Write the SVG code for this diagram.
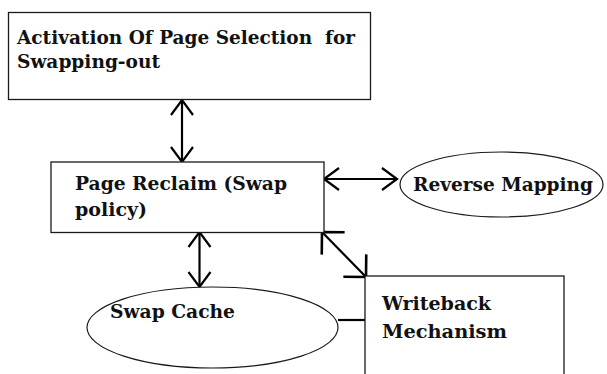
<svg xmlns="http://www.w3.org/2000/svg" width="607" height="374" viewBox="0 0 607 374">
  <style>
    .box { fill: #ffffff; stroke: #1a1a1a; stroke-width: 1.3; }
    .oval { fill: #ffffff; stroke: #1a1a1a; stroke-width: 1.2; }
    .lbl { font-family: "DejaVu Serif", "Liberation Serif", serif; font-weight: bold; font-size: 18px; fill: #111111; white-space: pre; }
    .link { fill: none; stroke: #000000; stroke-width: 2.2; }
  </style>
  <defs>
    <marker id="vee" markerUnits="userSpaceOnUse" viewBox="-20 -16 24 32" markerWidth="24" markerHeight="32" refX="0" refY="0" orient="auto-start-reverse" overflow="visible">
      <path d="M-15,-11 L0,0 L-15,11" fill="none" stroke="#000" stroke-width="2.2"/>
    </marker>
    <marker id="vee45" markerUnits="userSpaceOnUse" viewBox="-24 -24 28 48" markerWidth="28" markerHeight="48" refX="0" refY="0" orient="auto-start-reverse" overflow="visible">
      <path d="M-16,-16 L0,0 L-16,16" fill="none" stroke="#000" stroke-width="2.6"/>
    </marker>
  </defs>

  <rect width="607" height="374" fill="#ffffff"/>

  <!-- connectors -->
  <g id="connectors">
    <line class="link" x1="182" y1="100" x2="182" y2="162" marker-start="url(#vee)" marker-end="url(#vee)"/>
    <line class="link" x1="324" y1="179" x2="397" y2="179" marker-start="url(#vee)" marker-end="url(#vee)"/>
    <line class="link" x1="199.5" y1="232" x2="199.5" y2="287" marker-start="url(#vee)" marker-end="url(#vee)"/>
    <line class="link" x1="322" y1="232" x2="366" y2="277" stroke-width="1.8" marker-start="url(#vee45)" marker-end="url(#vee45)"/>
    <line class="link" x1="338" y1="320" x2="365" y2="320"/>
  </g>

  <!-- nodes -->
  <g id="node-activation">
    <rect class="box" x="8.5" y="12.5" width="362" height="87"/>
    <text class="lbl" x="17" y="44" textLength="338" lengthAdjust="spacingAndGlyphs">Activation Of Page Selection  for</text>
    <text class="lbl" x="17" y="68" textLength="143" lengthAdjust="spacingAndGlyphs">Swapping-out</text>
  </g>

  <g id="node-reclaim">
    <rect class="box" x="51" y="162" width="273" height="70.5"/>
    <text class="lbl" x="75" y="190" textLength="212" lengthAdjust="spacingAndGlyphs">Page Reclaim (Swap</text>
    <text class="lbl" x="75" y="216" textLength="72" lengthAdjust="spacingAndGlyphs">policy)</text>
  </g>

  <g id="node-reverse">
    <ellipse class="oval" cx="501.5" cy="184.5" rx="101.5" ry="32.5"/>
    <text class="lbl" x="413" y="191" textLength="180" lengthAdjust="spacingAndGlyphs">Reverse Mapping</text>
  </g>

  <g id="node-swapcache">
    <ellipse class="oval" cx="212.5" cy="327.5" rx="125.5" ry="40.5"/>
    <text class="lbl" x="110" y="318" textLength="125" lengthAdjust="spacingAndGlyphs">Swap Cache</text>
  </g>

  <g id="node-writeback">
    <rect class="box" x="365" y="276" width="199" height="110"/>
    <text class="lbl" x="382" y="310" textLength="109" lengthAdjust="spacingAndGlyphs">Writeback</text>
    <text class="lbl" x="382" y="338" textLength="125" lengthAdjust="spacingAndGlyphs">Mechanism</text>
  </g>
</svg>
